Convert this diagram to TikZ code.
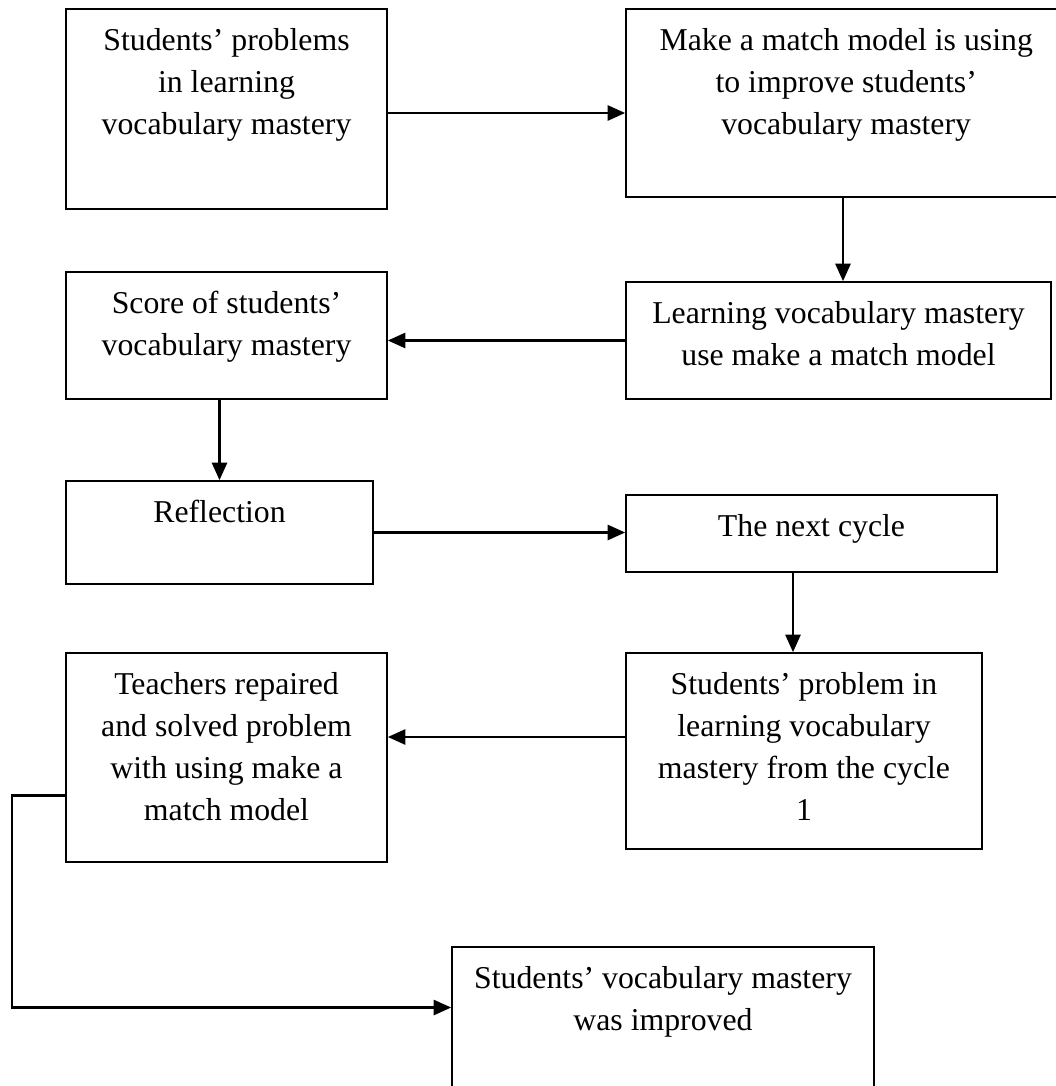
\documentclass[tikz,border=0pt]{standalone}
\usepackage{fontspec}
\setmainfont{Liberation Serif}
\usetikzlibrary{arrows.meta,positioning,fit,calc}

\tikzset{
  box/.style={draw, line width=1.2pt, inner sep=0pt},
  boxtext/.style={inner sep=0pt, align=center, font=\fontsize{22.6}{30}\selectfont},
  flow/.style={line width=1.7pt, -{Triangle[length=0.44cm,width=0.38cm]}}
}

\begin{document}
\begin{tikzpicture}[x=0.025cm, y=-0.025cm]
        \clip (0,0) rectangle (1056,1086);

        % Boxes
        \node[box, fit={(66,9) (387,209)}] (A) {};
        \node[box, fit={(626,9) (1060,197)}] (B) {};
        \node[box, fit={(626,282) (1051,399)}] (C) {};
        \node[box, fit={(66,272) (387,399)}] (D) {};
        \node[box, fit={(66,481) (373,584)}] (E) {};
        \node[box, fit={(626,495) (997,572)}] (F) {};
        \node[box, fit={(626,653) (982,849)}] (G) {};
        \node[box, fit={(66,653) (387,862)}] (H) {};
        \node[box, fit={(452,947) (874,1092)}] (I) {};

        % Texts
        \node[boxtext, below=0.49cm of A.north] (Atext) {Students’ problems\\in learning\\vocabulary mastery};
        \node[boxtext, below=0.49cm of B.north, xshift=0.08cm] (Btext) {Make a match model is using\\to improve students’\\vocabulary mastery};
        \node[boxtext, below=0.49cm of C.north] (Ctext) {Learning vocabulary mastery\\use make a match model};
        \node[boxtext, below=0.49cm of D.north] (Dtext) {Score of students’\\vocabulary mastery};
        \node[boxtext, below=0.49cm of E.north] (Etext) {Reflection};
        \node[boxtext, below=0.49cm of F.north] (Ftext) {The next cycle};
        \node[boxtext, below=0.49cm of G.north] (Gtext) {Students’ problem in\\learning vocabulary\\mastery from the cycle\\1};
        \node[boxtext, below=0.49cm of H.north] (Htext) {Teachers repaired\\and solved problem\\with using make a\\match model};
        \node[boxtext, below=0.49cm of I.north] (Itext) {Students’ vocabulary mastery\\was improved};

        % Connectors
        \coordinate (ab) at ($(A.east)+(0,4)$);
        \coordinate (fg) at ($(G.north)+(-11,0)$);
        \coordinate (gh) at ($(G.west)+(0,-14)$);
        \coordinate (hi) at ($(H.west)+(0,38)$);
        \coordinate (iin) at ($(I.west)+(0,-12)$);
        \coordinate (corner) at (12,0);

        \draw[flow] (ab) -- (ab -| B.west);
        \draw[flow] (B.south) -- (B.south |- C.north);
        \draw[flow] (C.west) -- (C.west -| D.east);
        \draw[flow] (D.south -| E.north) -- (E.north);
        \draw[flow] (E.east) -- (E.east -| F.west);
        \draw[flow] (fg |- F.south) -- (fg);
        \draw[flow] (gh) -- (gh -| H.east);
        \draw[flow] (hi) -- (hi -| corner) |- (iin);
\end{tikzpicture}
\end{document}
